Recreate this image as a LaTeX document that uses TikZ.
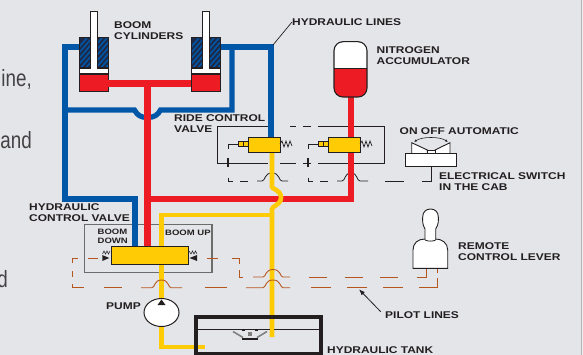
\documentclass[tikz,border=0pt]{standalone}
\usepackage{fontspec}
\setmainfont{Liberation Sans}
\newfontfamily\lab{Liberation Sans}[FakeStretch=1.22]
\newfontfamily\body{Liberation Sans}[FakeStretch=0.8]
\usetikzlibrary{arrows.meta,shapes.geometric}
\definecolor{bgc}{HTML}{E4E5E8}
\definecolor{hblue}{HTML}{0057A8}
\definecolor{hred}{HTML}{ED1C24}
\definecolor{hyel}{HTML}{FFCB05}
\definecolor{pil}{HTML}{B5561F}
\definecolor{ink}{HTML}{231F20}
\definecolor{navy}{HTML}{1C2B4A}
\tikzset{
  hose/.style={line width=#1,line join=miter},
  bluehose/.style={draw=hblue,hose=5.2pt},
  redhose/.style={draw=hred,hose=6.5pt},
  yelhose/.style={draw=hyel,hose=4.6pt},
  pilot/.style={draw=pil,line width=0.9pt},
  elec/.style={draw=ink,line width=0.8pt},
  lbl/.style={font=\lab\bfseries\fontsize{9.8}{11}\selectfont,text=ink,inner sep=0pt,anchor=west,align=left},
  lbls/.style={font=\lab\bfseries\fontsize{7.8}{9.5}\selectfont,text=ink,inner sep=0pt,anchor=west,align=left},
  bodytext/.style={font=\body\fontsize{23.5}{28}\selectfont,text=ink!85,inner sep=0pt,anchor=base east},
  yvalve/.style={draw=ink,line width=0.9pt,fill=hyel,inner sep=0pt,minimum width=#1,minimum height=15pt},
  whitepart/.style={draw=ink,line width=0.9pt,fill=white},
}
\begin{document}
\begin{tikzpicture}[x=1pt,y=-1pt]
\useasboundingbox (0,0) rectangle (583,355);
\fill[bgc] (0,0) rectangle (583,355);
\fill[bgc!60!white] (581,0) rectangle (583,355);
\draw[gray!60,line width=0.6pt] (581,0) -- (581,355);

% body text fragments
\node[bodytext] (t1) at (32,87) {ine,};
\node[bodytext] (t2) at (32,149) {and};
\node[bodytext] (t3) at (8,287) {d};

% anchors
\coordinate (blTL) at (65,47);
\coordinate (blJ) at (65,110);
\coordinate (blB) at (65,199);
\coordinate (blV) at (135,199);
\coordinate (brJ) at (232,47);
\coordinate (brT) at (271,47);
\coordinate (lcyl) at (79,47);
\coordinate (rcyl) at (220,47);
\coordinate (tee) at (147.5,83.5);
\coordinate (redJ) at (147.5,199);
\coordinate (redC) at (351,199);

% control valve box
\draw[draw=gray!85!black,line width=1.2pt] (84.7,224.3) rectangle (212,272.7);

% ride control box
\draw[elec] (271,126.7) -- (217,126.7) -- (217,163) -- (268,163);
\draw[elec] (318,126.7) -- (384,126.7) -- (384,163) -- (318,163);
\foreach \a/\b in {290/296,303/311} \draw[elec] (\a,126.7) -- (\b,126.7);
\foreach \a/\b in {280/296,303/310} \draw[elec] (\a,163) -- (\b,163);
\draw[ink,line width=1.4pt] (228,158) -- (228,167);
\draw[ink,line width=1.4pt] (308,158) -- (308,167);

% lower control wire with bumps
\draw[elec] (228,178) -- (228,181) -- (233,181);
\draw[elec] (240,181) -- (248,181);
\draw[elec] (257,181) -- (262,181) .. controls (265.5,181) and (264,173) .. (272,173) .. controls (280,173) and (278.5,181) .. (282,181) -- (288,181);
\draw[elec] (308,178) -- (308,181) -- (312.6,181);
\draw[elec] (320,181) -- (328,181);
\draw[elec] (337,181) -- (342,181) .. controls (345.5,181) and (344,173) .. (351,173) .. controls (358,173) and (356.5,181) .. (360,181) -- (368,181);
\draw[elec] (385,181) -- (404,181);
\draw[elec] (422,181) -- (431,181) -- (431,167);

% blue hoses
\draw[bluehose] (lcyl) -- (blTL) -- (blB) -- (blV) -- (135,247);
\draw[bluehose] (blJ) -- (134.5,110) .. controls (137.5,115.5) and (141,117.5) .. (147.5,117.5) .. controls (154,117.5) and (158,115) .. (160.5,110) -- (232,110) -- (brJ);
\draw[bluehose] (rcyl) -- (brT) -- (271,137);

% cylinders
\foreach \cx/\nm in {79/cylL,191/cylR}{
  \begin{scope}
    \clip (\cx,38) rectangle (\cx+29,68);
    \fill[navy] (\cx,38) rectangle (\cx+29,68);
    \foreach \k in {-4,...,8}
      \draw[hblue,line width=1.5pt] (\cx+\k*5,70) -- (\cx+\k*5+28,38);
  \end{scope}
  \draw[ink,line width=1pt] (\cx,38) rectangle (\cx+29,68);
  \fill[hred] (\cx,74) rectangle (\cx+29,92);
  \draw[whitepart] (\cx,68) rectangle (\cx+29,74);
  \draw[ink,line width=1pt] (\cx,74) rectangle (\cx+29,92);
  \draw[whitepart] (\cx+11,11) rectangle (\cx+18,68);
  \fill[white] (\cx+11.5,66) rectangle (\cx+17.5,69);
}

% red hoses
\draw[redhose] (108,83.5) -- (191,83.5);
\draw[redhose] (tee) -- (147.5,247);
\draw[draw=hred,hose=6pt] (redJ) -- (redC) -- (351,90);

% accumulator
\fill[white,rounded corners=9pt] (334,41.7) rectangle (367,97);
\begin{scope}
  \clip (330,69) rectangle (371,100);
  \fill[hred,rounded corners=9pt] (334,41.7) rectangle (367,97);
\end{scope}
\draw[ink,line width=1pt] (334,69) -- (367,69);
\draw[ink,line width=1.1pt,rounded corners=9pt] (334,41.7) rectangle (367,97);

% yellow hoses
\draw[yelhose] (272,152) -- (272,187) .. controls (272,189) and (281,190) .. (281,197.5) .. controls (281,205) and (272,206) .. (272,209) -- (272,337);
\draw[yelhose] (272,215) -- (161.5,215) -- (161.5,299);
\draw[yelhose] (161.5,327) -- (161.5,347) -- (205,347);

% control valve body
\node[yvalve=77pt,minimum height=18pt] (cv) at (149.5,255.7) {};
\fill[ink] (102.3,255) -- (109.3,258) -- (102.3,261) -- cycle;
\fill[ink] (197,255) -- (189.5,258) -- (197,261) -- cycle;
\draw[ink,line width=0.5pt] (102.5,254) -- (104,251) -- (105.5,254) -- (107,251) -- (108.5,254) -- (110,251);
\draw[ink,line width=0.5pt] (189,251) -- (191,254) -- (192.5,251) -- (194,254) -- (195.5,251) -- (197,254);

% ride control valves
\foreach \vx/\nm in {248/rv1,328/rv2}{
  \node[yvalve=32pt,anchor=north west] (\nm) at (\vx,137) {};
  \draw[ink,line width=0.6pt,fill=hyel] (\vx-10,141.7) rectangle (\vx,146.7);
  \draw[ink,line width=0.6pt] (\vx-5,141.7) -- (\vx-5,146.7);
  \draw[ink,line width=0.7pt] (\vx-20,149) -- (\vx-20,144) -- (\vx-10,144);
  \draw[ink,line width=0.7pt] (\vx+32,144) -- (\vx+34,141) -- (\vx+36,147) -- (\vx+38,141) -- (\vx+40,147) -- (\vx+42,141) -- (\vx+44,146);
}
\draw[ink,line width=0.7pt] (305,163) -- (311,163);

% switch
\draw[whitepart] (411.7,142.7) -- (427.3,150) -- (427.3,153.7) -- (411.7,153.7) -- cycle;
\draw[whitepart] (450,142.7) -- (435,150) -- (435,153.7) -- (450,153.7) -- cycle;
\draw[whitepart] (427.3,150) rectangle (435,153.7);
\node[draw=ink,line width=1pt,fill=white,minimum width=51pt,minimum height=13.3pt,inner sep=0pt] (sw) at (430.5,160.3) {};
\draw[ink,line width=0.6pt,{Latex[length=3pt,width=2.5pt]}-{Latex[length=3pt,width=2.5pt]}] (414,142) .. controls (422,136.5) and (440,136.5) .. (448,142);

% pump
\node[draw=ink,line width=1pt,fill=white,ellipse,minimum width=35pt,minimum height=28pt,inner sep=0pt] (pump) at (161.5,312.5) {};
\fill[ink] (157.5,305) -- (161.5,299.5) -- (165.5,305) -- cycle;

% tank
\draw[ink,line width=4pt] (196,317) rectangle (321,353.5);
\draw[ink,line width=0.9pt] (198,329.5) -- (319,329.5);
\draw[gray,line width=1.6pt] (233,331.5) -- (243,337.5);
\draw[gray,line width=1.6pt] (267,331.5) -- (257,337.5);
\fill[gray] (248.2,332) rectangle (251.8,336);
\draw[ink,line width=0.8pt] (241.5,330.5) -- (244.5,330.5);
\draw[ink,line width=0.8pt] (255,330.5) -- (258,330.5);
\draw[ink,line width=1.5pt] (242,339) -- (258,339);
\draw[yelhose] (272,320) -- (272,337);

% lever
\draw[whitepart] (413,268.3) -- (413,250) .. controls (413,243) and (418,239) .. (425,239) -- (435.7,239) .. controls (442,239) and (447.7,243) .. (447.7,250) -- (447.7,268.3) -- cycle;
\draw[whitepart] (425,240) -- (425,229) .. controls (422,224) and (422.7,220) .. (422.7,217) .. controls (422.7,212) and (426,209) .. (430.5,209) .. controls (435,209) and (438.3,212) .. (438.3,217) .. controls (438.3,220) and (439,224) .. (435.7,229) -- (435.7,240);
\fill[white] (425.5,236) rectangle (435.2,241);
\draw[ink,line width=0.8pt] (425,240) .. controls (428,241.5) and (433,241.5) .. (435.7,240);

% pilot lines
\foreach \a/\b in {88/98,207/218} \draw[pilot] (\a,258) -- (\b,258);
\draw[pilot] (72.7,263) -- (72.7,258) -- (78,258);
\draw[pilot] (232,258) -- (239,258) -- (239,264);
\draw[pilot,line width=1.2pt] (72.7,271) -- (72.7,277);
\draw[pilot] (72.7,284) -- (72.7,287.7) -- (84,287.7);
\draw[pilot] (239,270) -- (239,277) -- (243,277);
\foreach \a/\b in {104/122,205/227,311/331,347/367,383/403} \draw[pilot] (\a,287.7) -- (\b,287.7);
\draw[pilot] (141,287.7) -- (152,287.7) .. controls (155,287.7) and (154,280) .. (161.5,280) .. controls (169,280) and (168,287.7) .. (171,287.7) -- (182,287.7);
\draw[pilot] (246,287.7) -- (263,287.7) .. controls (266,287.7) and (265,280) .. (273,280) .. controls (281,280) and (280,287.7) .. (283,287.7) -- (290,287.7);
\draw[pilot] (253,277) -- (263,277) .. controls (266,277) and (265,269.5) .. (273,269.5) .. controls (281,269.5) and (280,277) .. (283,277) -- (290,277);
\foreach \a/\b in {309/327,345/363,380/398} \draw[pilot] (\a,277) -- (\b,277);
\draw[pilot] (417,277) -- (426,277) -- (426,269);
\draw[pilot] (419,287.7) -- (437.7,287.7) -- (437.7,278);
\draw[pilot,line width=1.2pt] (437.7,269) -- (437.7,273);

% leaders
\coordinate (pilotTip) at (359,289.3);
\node[lbl] (pilot) at (385,315) {PILOT LINES};
\draw[ink,line width=0.8pt,-{Latex[length=6pt,width=4.5pt]}] (380.7,311.7) -- (pilotTip);
\node[lbl] (hlines) at (292,22) {HYDRAULIC LINES};
\draw[ink,line width=0.7pt] (brT) ++(2,-2) -- (hlines.west);

% labels
\node[lbl] (l1) at (114,30.5) {BOOM\\CYLINDERS};
\node[lbl] (l2) at (376.5,55.5) {NITROGEN\\ACCUMULATOR};
\node[lbl] (l3) at (174,123.5) {RIDE CONTROL\\VALVE};
\node[lbl] (l4) at (399.5,131) {ON OFF AUTOMATIC};
\node[lbl] (l5) at (439,181.5) {ELECTRICAL SWITCH\\IN THE CAB};
\node[lbl] (l6) at (29,212.5) {HYDRAULIC\\CONTROL VALVE};
\node[lbls] (l7) at (97.5,236.5) {BOOM\\DOWN};
\node[lbls] (l8) at (165,233) {BOOM UP};
\node[lbl] (l9) at (106,306) {PUMP};
\node[lbl] (l10) at (458,251.5) {REMOTE\\CONTROL LEVER};
\node[lbl] (l11) at (327,350) {HYDRAULIC TANK};
\end{tikzpicture}
\end{document}
